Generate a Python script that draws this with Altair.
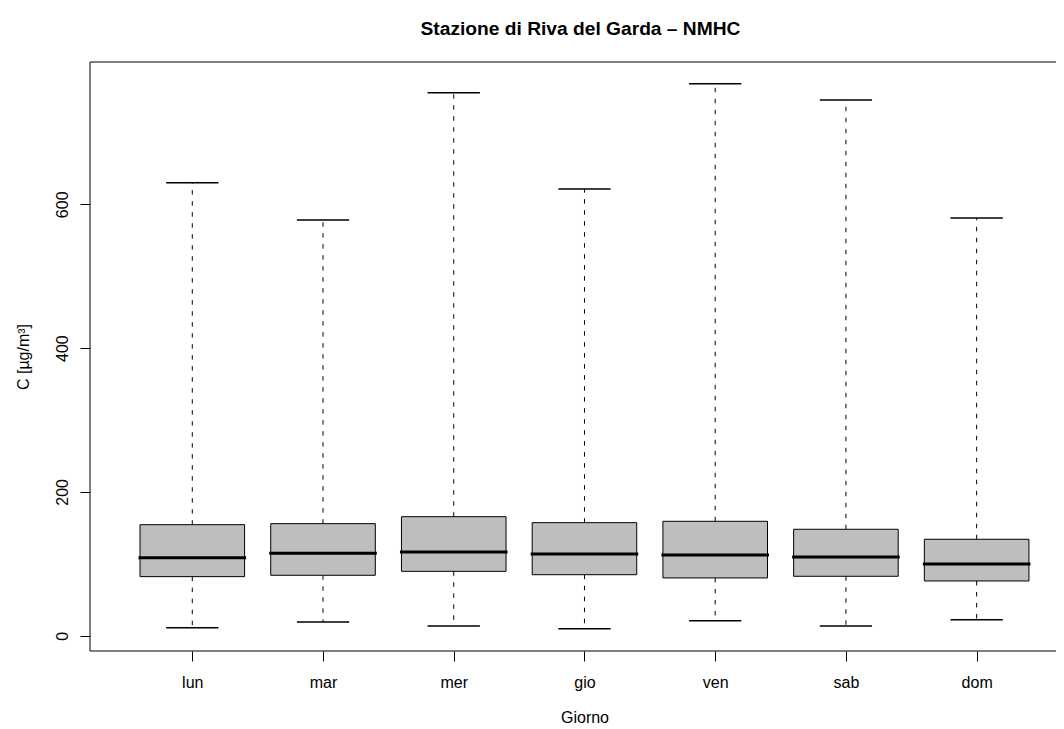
import json
import altair as alt
import pandas as pd

# ---- data ----
days = ["lun", "mar", "mer", "gio", "ven", "sab", "dom"]
whisker_low = [11.1, 19.1, 13.5, 9.7, 20.9, 13.5, 22.3]
q1 = [82.1, 84.0, 89.5, 84.8, 80.3, 82.6, 76.1]
median = [108.5, 114.6, 116.4, 113.6, 112.2, 109.5, 99.7]
q3 = [154.4, 155.8, 165.5, 157.2, 159.1, 148.0, 134.1]
whisker_high = [630.0, 578.0, 755.2, 621.3, 767.7, 745.1, 581.0]
y_ticks = [0, 200, 400, 600]

df = pd.DataFrame({
    "day": days,
    "pos": list(range(1, len(days) + 1)),
    "lo": whisker_low,
    "q1": q1,
    "med": median,
    "q3": q3,
    "hi": whisker_high,
})

FONT = "Liberation Sans"
W, H = 966, 589

xscale = alt.Scale(domain=[0.2175, 7.607], nice=False, zero=False)
yscale = alt.Scale(domain=[-21.3, 797.9], nice=False, zero=False)

label_expr = json.dumps(days) + "[datum.value - 1]"

x_axis = alt.Axis(
    values=list(range(1, len(days) + 1)), labelExpr=label_expr,
    tickSize=10, tickColor="black", tickWidth=1, domain=False, grid=False,
    labelPadding=26, labelBaseline="alphabetic", labelFontSize=16,
    labelFont=FONT, labelColor="black",
    title="Giorno", titleFont=FONT, titleFontSize=16, titleFontWeight="normal",
    titleColor="black", titleBaseline="alphabetic", titleAlign="center",
    titleX=494.5, titleY=71,
)
y_axis = alt.Axis(
    values=y_ticks, tickSize=10, tickColor="black", tickWidth=1,
    domain=False, grid=False,
    labelAngle=270, labelAlign="center", labelBaseline="alphabetic",
    labelPadding=13, labelFontSize=16, labelFont=FONT, labelColor="black",
    title="C [µg/m³]", titleFont=FONT, titleFontSize=16,
    titleFontWeight="normal", titleColor="black", titleAngle=270,
    titleAlign="center", titleBaseline="alphabetic", titleX=-62, titleY=294.5,
)

base = alt.Chart(df).transform_calculate(
    xl="datum.pos - 0.4", xr="datum.pos + 0.4",
    cl="datum.pos - 0.2", cr="datum.pos + 0.2",
)

dash = [4.5, 6.5]
whisk_lo = base.mark_rule(color="black", strokeWidth=1, strokeDash=dash).encode(
    x=alt.X("pos:Q", scale=xscale, axis=x_axis),
    y=alt.Y("q1:Q", scale=yscale, axis=y_axis),
    y2="lo:Q",
)
whisk_hi = base.mark_rule(color="black", strokeWidth=1, strokeDash=dash).encode(
    x=alt.X("pos:Q", scale=xscale, axis=x_axis),
    y=alt.Y("q3:Q", scale=yscale, axis=y_axis),
    y2="hi:Q",
)
box = base.mark_rect(fill="#BEBEBE", stroke="black", strokeWidth=1).encode(
    x=alt.X("xl:Q", scale=xscale, axis=x_axis),
    x2="xr:Q",
    y=alt.Y("q1:Q", scale=yscale, axis=y_axis),
    y2="q3:Q",
)
med = base.mark_rule(color="black", strokeWidth=3, strokeCap="square").encode(
    x=alt.X("xl:Q", scale=xscale, axis=x_axis),
    x2="xr:Q",
    y=alt.Y("med:Q", scale=yscale, axis=y_axis),
)
cap_lo = base.mark_rule(color="black", strokeWidth=1.5).encode(
    x=alt.X("cl:Q", scale=xscale, axis=x_axis),
    x2="cr:Q",
    y=alt.Y("lo:Q", scale=yscale, axis=y_axis),
)
cap_hi = base.mark_rule(color="black", strokeWidth=1.5).encode(
    x=alt.X("cl:Q", scale=xscale, axis=x_axis),
    x2="cr:Q",
    y=alt.Y("hi:Q", scale=yscale, axis=y_axis),
)

one = pd.DataFrame({"k": [0]})
frame_top = alt.Chart(one).mark_rule(color="black", strokeWidth=1).encode(
    x=alt.value(0), x2=alt.value(W), y=alt.value(0))
frame_bottom = alt.Chart(one).mark_rule(color="black", strokeWidth=1).encode(
    x=alt.value(0), x2=alt.value(W), y=alt.value(H))
frame_left = alt.Chart(one).mark_rule(color="black", strokeWidth=1).encode(
    x=alt.value(0), y=alt.value(0), y2=alt.value(H))

chart = alt.layer(
    whisk_lo, whisk_hi, box, med, cap_lo, cap_hi,
    frame_top, frame_bottom, frame_left,
).properties(
    width=W, height=H,
    autosize=alt.AutoSizeParams(type="none"),
    padding={"left": 82, "top": 54, "right": 0, "bottom": 76},
    title=alt.TitleParams(
        text="Stazione di Riva del Garda – NMHC", font=FONT, fontSize=19.2,
        fontWeight="bold", color="black", anchor="middle", frame="group",
        dx=7.5, baseline="alphabetic", offset=7,
    ),
    background="white",
).configure_view(stroke=None)

chart.save("out.html", embed_options={"renderer": "svg", "actions": False})
